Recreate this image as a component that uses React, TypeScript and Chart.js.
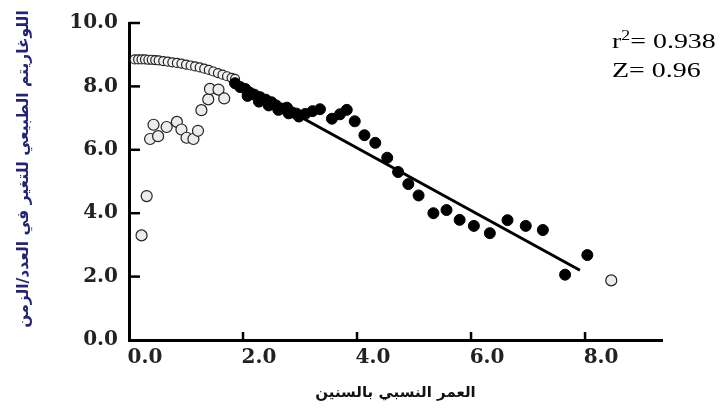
import React, { useEffect, useRef } from 'react';
import { Chart, registerables } from 'chart.js';

Chart.register(...registerables);

// ---- axis ticks ----
const xTickValues = [0, 2, 4, 6, 8];
const xTickLabels = ['0.0', '2.0', '4.0', '6.0', '8.0'];
const yTickValues = [0, 2, 4, 6, 8, 10];
const yTickLabels = ['0.0', '2.0', '4.0', '6.0', '8.0', '10.0'];

// ---- titles / annotation ----
const xAxisTitle = 'العمر النسبي بالسنين';
const yAxisTitle = 'اللوغاريتم الطبيعي للتغير في العدد/الزمن';
const r2Value = '0.938';
const zValue = '0.96';

// ---- open circles: top row (young ages, excluded) ----
const openRowX = [0.10, 0.16, 0.22, 0.28, 0.34, 0.40, 0.46, 0.52, 0.60, 0.68, 0.76, 0.84, 0.92, 1.00, 1.08, 1.16, 1.24, 1.32, 1.40, 1.48, 1.56, 1.64, 1.72, 1.80, 1.86];
const openRowY = [8.85, 8.85, 8.85, 8.85, 8.84, 8.84, 8.83, 8.82, 8.80, 8.78, 8.76, 8.74, 8.72, 8.69, 8.66, 8.63, 8.60, 8.56, 8.52, 8.47, 8.42, 8.37, 8.32, 8.27, 8.24];

// ---- open circles: scattered excluded points ----
const openScatterX = [0.22, 0.31, 0.37, 0.43, 0.51, 0.66, 0.84, 0.92, 1.01, 1.13, 1.21, 1.27, 1.39, 1.42, 1.57, 1.67, 8.46];
const openScatterY = [3.30, 4.54, 6.34, 6.79, 6.43, 6.72, 6.88, 6.64, 6.38, 6.34, 6.60, 7.25, 7.59, 7.92, 7.90, 7.62, 1.88];

// ---- filled circles: points used in the regression ----
const filledX = [1.86, 1.95, 2.04, 2.08, 2.12, 2.20, 2.28, 2.30, 2.40, 2.45, 2.50, 2.58, 2.62, 2.68, 2.77, 2.80, 2.86, 2.94, 2.98, 3.09, 3.22, 3.35, 3.56, 3.70, 3.82, 3.96, 4.13, 4.32, 4.53, 4.72, 4.90, 5.08, 5.34, 5.57, 5.80, 6.05, 6.33, 6.64, 6.96, 7.26, 7.65, 8.04];
const filledY = [8.10, 7.98, 7.92, 7.70, 7.80, 7.74, 7.52, 7.66, 7.58, 7.40, 7.50, 7.40, 7.26, 7.30, 7.33, 7.15, 7.18, 7.14, 7.05, 7.13, 7.22, 7.28, 6.98, 7.12, 7.26, 6.90, 6.46, 6.22, 5.75, 5.30, 4.92, 4.56, 4.00, 4.10, 3.79, 3.60, 3.37, 3.78, 3.60, 3.47, 2.06, 2.68];

// ---- regression line ----
const fitLineX = [1.9, 7.91];
const fitLineY = [8.13, 2.2];

const toPoints = (xs: number[], ys: number[]) => xs.map((x, i) => ({ x, y: ys[i] }));

const decorPlugin = {
  id: 'decor',
  afterDraw(chart: any) {
    const { ctx, chartArea, scales } = chart;
    const xs = scales.x;
    const ys = scales.y;

    // inward tick marks
    ctx.save();
    ctx.strokeStyle = '#000';
    ctx.lineWidth = 2.5;
    xTickValues.forEach((v) => {
      if (v === 0) return;
      const px = xs.getPixelForValue(v);
      ctx.beginPath();
      ctx.moveTo(px, chartArea.bottom);
      ctx.lineTo(px, chartArea.bottom - 8);
      ctx.stroke();
    });
    yTickValues.forEach((v) => {
      if (v === 0) return;
      const py = ys.getPixelForValue(v);
      ctx.beginPath();
      ctx.moveTo(chartArea.left, py);
      ctx.lineTo(chartArea.left + 11, py);
      ctx.stroke();
    });
    ctx.restore();

    // vertical y-axis title
    ctx.save();
    ctx.translate(24, 169);
    ctx.rotate(-Math.PI / 2);
    ctx.fillStyle = '#23237a';
    ctx.font = 'bold 15.5px "DejaVu Sans"';
    ctx.textAlign = 'center';
    ctx.textBaseline = 'middle';
    ctx.fillText(yAxisTitle, 0, 0);
    ctx.restore();

    // annotation text (r^2 and Z), slightly widened like the original
    ctx.save();
    ctx.fillStyle = '#000';
    ctx.textBaseline = 'alphabetic';
    ctx.textAlign = 'left';
    const tx = chart.width - 111;
    ctx.translate(tx, 0);
    ctx.scale(1.27, 1);
    ctx.font = '22px "Liberation Serif"';
    ctx.fillText('r', 0, 48);
    let cx = ctx.measureText('r').width;
    ctx.font = '14px "Liberation Serif"';
    ctx.fillText('2', cx, 40);
    cx += ctx.measureText('2').width;
    ctx.font = '22px "Liberation Serif"';
    ctx.fillText('= ' + r2Value, cx, 48);
    ctx.fillText('Z= ' + zValue, 0, 77);
    ctx.restore();
  },
};

export default function App() {
  const canvasRef = useRef<HTMLCanvasElement | null>(null);

  useEffect(() => {
    const canvas = canvasRef.current;
    if (!canvas) return;
    const chart = new Chart(canvas, {
      type: 'scatter',
      data: {
        datasets: [
          {
            type: 'line',
            data: toPoints(fitLineX, fitLineY),
            borderColor: '#000',
            borderWidth: 3,
            pointRadius: 0,
            showLine: true,
            fill: false,
          } as any,
          {
            data: toPoints(filledX, filledY),
            pointStyle: 'circle',
            pointRadius: 5.5,
            backgroundColor: '#000',
            borderColor: '#000',
            borderWidth: 1,
          },
          {
            data: toPoints(openScatterX, openScatterY),
            pointStyle: 'circle',
            pointRadius: 5.5,
            backgroundColor: '#ececec',
            borderColor: '#222',
            borderWidth: 1.2,
          },
          {
            data: toPoints(openRowX, openRowY),
            pointStyle: 'circle',
            pointRadius: 4.5,
            backgroundColor: '#f2f2f2',
            borderColor: '#222',
            borderWidth: 1.2,
          },
        ],
      },
      options: {
        responsive: false,
        animation: false,
        devicePixelRatio: 1,
        layout: { padding: { top: 15, right: 61, left: 0, bottom: 0 } },
        plugins: { legend: { display: false }, tooltip: { enabled: false } },
        scales: {
          x: {
            type: 'linear',
            min: 0,
            max: 9.35,
            afterBuildTicks: (s: any) => {
              s.ticks = xTickValues.map((v) => ({ value: v }));
            },
            afterFit: (s: any) => {
              s.height = 74;
            },
            grid: { display: false, drawTicks: false },
            border: { display: true, color: '#000', width: 3 },
            ticks: {
              autoSkip: false,
              maxRotation: 0,
              padding: 6,
              labelOffset: 16,
              color: '#222',
              font: { family: '"DejaVu Serif"', weight: 'bold', size: 20 },
              callback: (v: any) => {
                const i = xTickValues.indexOf(Number(v));
                return i >= 0 ? xTickLabels[i] : '';
              },
            },
            title: {
              display: true,
              text: xAxisTitle,
              color: '#111',
              font: { family: '"DejaVu Sans"', weight: 'bold', size: 15 },
              padding: { top: 0, bottom: 12 },
            },
          },
          y: {
            type: 'linear',
            min: 0,
            max: 10,
            afterBuildTicks: (s: any) => {
              s.ticks = yTickValues.map((v) => ({ value: v }));
            },
            afterFit: (s: any) => {
              s.width = 129;
            },
            grid: { display: false, drawTicks: false },
            border: { display: true, color: '#000', width: 3 },
            ticks: {
              autoSkip: false,
              padding: 11,
              color: '#222',
              font: { family: '"DejaVu Serif"', weight: 'bold', size: 20 },
              callback: (v: any) => {
                const i = yTickValues.indexOf(Number(v));
                return i >= 0 ? yTickLabels[i] : '';
              },
            },
            title: { display: false },
          },
        },
      },
      plugins: [decorPlugin],
    } as any);
    return () => chart.destroy();
  }, []);

  return (
    <div style={{ position: 'fixed', left: 0, top: 0, width: 723, height: 414, background: '#fff' }}>
      <canvas ref={canvasRef} width={723} height={414} style={{ display: 'block' }} />
    </div>
  );
}
